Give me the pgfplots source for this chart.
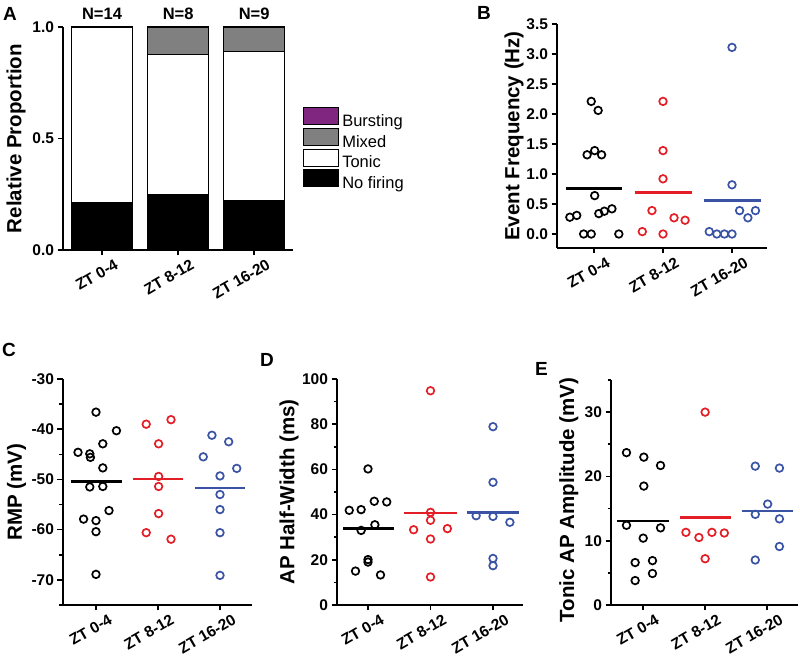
\documentclass[border=0pt]{standalone}
\usepackage{fontspec}
\setmainfont{Liberation Sans}
\usepackage{pgfplots}
\pgfplotsset{compat=1.18}
\definecolor{myred}{RGB}{228,30,38}
\definecolor{myblue}{RGB}{58,83,164}
\definecolor{mypurple}{RGB}{128,38,128}
\definecolor{mygray}{RGB}{128,128,128}
\pgfplotsset{
  base/.style={
    scale only axis, anchor=south west,
    axis lines=left, axis line style={-, line width=2pt},
    tick align=outside, major tick length=5.5pt, minor tick length=3.5pt,
    tick style={black, line width=1.6pt},
    tick label style={font=\fontsize{15.5}{17}\selectfont\bfseries},
    /pgf/number format/assume math mode=true,
    xtick={1,2,3}, xticklabels={ZT 0-4, ZT 8-12, ZT 16-20},
    x tick label style={rotate=30, anchor=north east, xshift=12pt, yshift=-5pt},
    ylabel style={font=\fontsize{20.5}{23}\selectfont\bfseries, anchor=center},
    clip=false,
  },
  dots/.style={only marks, mark=o, mark size=3.8pt, line width=1.7pt},
  mean/.style={no marks, line width=2.5pt},
  boxlegend/.style={legend image code/.code={\draw[##1] (0pt,-3.4pt) rectangle (35pt,13.4pt);}},
}
\begin{document}
\begin{tikzpicture}
\path[use as bounding box] (0pt,0pt) rectangle (800pt,668pt);
% ---------------- A
\begin{axis}[base, at={(63pt,418pt)}, width=230pt, height=223pt,
  xmin=0.487, xmax=3.51, ymin=0, ymax=1,
  ytick={0,0.5,1},
  yticklabel style={/pgf/number format/.cd, fixed, fixed zerofill, precision=1},
  ylabel={Relative Proportion},
  ylabel style={at={(axis description cs:-0.204,0.5)}},
  ybar stacked, bar width=0.8,
  reverse legend,
  legend style={at={(1.043,0.641)}, anchor=north west, draw=none, fill=none,
    inner sep=0pt, row sep=0pt, column sep=3pt, nodes={inner sep=0pt},
    font=\fontsize{16.5}{18}\selectfont},
  legend cell align=left,
]
\addplot[fill=black, draw=black, line width=1.2pt, boxlegend]
  coordinates {(1,0.214) (2,0.25) (3,0.222)};
\addlegendentry{No firing}
\addplot[fill=white, draw=black, line width=1.2pt, boxlegend]
  coordinates {(1,0.786) (2,0.625) (3,0.667)};
\addlegendentry{Tonic}
\addplot[fill=mygray, draw=black, line width=1.2pt, boxlegend]
  coordinates {(1,0) (2,0.125) (3,0.111)};
\addlegendentry{Mixed}
\addplot[fill=mypurple, draw=black, line width=1.2pt, boxlegend]
  coordinates {(1,0) (2,0) (3,0)};
\addlegendentry{Bursting}
\node[font=\fontsize{16.5}{18}\selectfont\bfseries, anchor=base, yshift=7pt] at (axis cs:1,1) {N=14};
\node[font=\fontsize{16.5}{18}\selectfont\bfseries, anchor=base, yshift=7pt] at (axis cs:2,1) {N=8};
\node[font=\fontsize{16.5}{18}\selectfont\bfseries, anchor=base, yshift=7pt] at (axis cs:3,1) {N=9};
\end{axis}
% ---------------- B
\begin{axis}[base, at={(557pt,420pt)}, width=210pt, height=224pt,
  xmin=0.464, xmax=3.507, ymin=-0.233, ymax=3.5,
  ytick={0,0.5,...,3.5},
  yticklabel style={/pgf/number format/.cd, fixed, fixed zerofill, precision=1},
  ylabel={Event Frequency (Hz)},
  ylabel style={at={(axis description cs:-0.205,0.5)}},
]
\addplot[dots, black] coordinates {(0.65,0.28) (0.75,0.31) (0.85,0) (0.96,0) (1.36,0) (0.90,1.32) (1.01,1.39) (1.11,1.32) (0.96,2.21) (1.06,2.06) (1.01,0.64) (1.07,0.34) (1.15,0.38) (1.26,0.42)};
\addplot[mean, black] coordinates {(0.59,0.76) (1.41,0.76)};
\addplot[dots, myred] coordinates {(2,2.21) (2,1.39) (2,0.92) (1.84,0.39) (1.70,0.04) (2,0) (2.16,0.27) (2.32,0.23)};
\addplot[mean, myred] coordinates {(1.59,0.69) (2.42,0.69)};
\addplot[dots, myblue] coordinates {(3,3.11) (3,0.82) (3.11,0.39) (3.23,0.27) (3.34,0.39) (2.67,0.04) (2.78,0) (2.89,0) (3,0)};
\addplot[mean, myblue] coordinates {(2.59,0.56) (3.42,0.56)};
\end{axis}
% ---------------- C
\begin{axis}[base, at={(63pt,63pt)}, width=189pt, height=226pt,
  xmin=0.468, xmax=3.516, ymin=-75, ymax=-30,
  ytick={-70,-60,-50,-40,-30}, minor ytick={-75,-65,-55,-45,-35},
  ylabel={RMP (mV)},
  ylabel style={at={(axis description cs:-0.246,0.5)}},
]
\addplot[dots, black] coordinates {(1.0,-36.6) (1.33,-40.3) (1.11,-42.9) (0.71,-44.6) (0.90,-44.9) (0.91,-45.6) (1.11,-47.7) (0.90,-51.5) (1.11,-51.4) (1.21,-56.2) (0.80,-57.9) (1.0,-58.2) (1.0,-60.4) (1.0,-68.9)};
\addplot[mean, black] coordinates {(0.59,-50.4) (1.42,-50.4)};
\addplot[dots, myred] coordinates {(1.81,-39.0) (2.21,-38.1) (2.01,-42.9) (2.01,-49.4) (2.01,-51.4) (2.01,-56.8) (1.81,-60.6) (2.21,-61.9)};
\addplot[mean, myred] coordinates {(1.59,-49.9) (2.41,-49.9)};
\addplot[dots, myblue] coordinates {(2.87,-41.2) (3.14,-42.5) (2.73,-45.5) (3.27,-47.8) (3,-49.3) (3,-53.0) (3,-56.0) (3,-60.6) (3,-69.1)};
\addplot[mean, myblue] coordinates {(2.59,-51.7) (3.41,-51.7)};
\end{axis}
% ---------------- D
\begin{axis}[base, at={(337pt,63pt)}, width=186pt, height=226pt,
  xmin=0.504, xmax=3.48, ymin=0, ymax=100,
  ytick={0,20,...,100}, minor ytick={10,30,50,70,90},
  ylabel={AP Half-Width (ms)},
  ylabel style={at={(axis description cs:-0.258,0.5)}},
]
\addplot[dots, black] coordinates {(1,60.2) (0.70,41.9) (0.89,42.2) (1.10,45.9) (1.30,45.6) (1.11,35.5) (0.89,33.0) (1,20.1) (1,19.0) (0.80,15.0) (1.20,13.3)};
\addplot[mean, black] coordinates {(0.60,33.8) (1.41,33.8)};
\addplot[dots, myred] coordinates {(2,94.8) (2,41.0) (2,37.5) (1.73,33.3) (2.27,33.8) (2,29.2) (2,12.4)};
\addplot[mean, myred] coordinates {(1.58,40.6) (2.42,40.6)};
\addplot[dots, myblue] coordinates {(3,78.9) (3,54.3) (2.73,39.5) (3,39.2) (3.27,36.6) (3,20.6) (3,17.4)};
\addplot[mean, myblue] coordinates {(2.58,41.0) (3.42,41.0)};
\end{axis}
% ---------------- E
\begin{axis}[base, at={(611pt,63pt)}, width=187pt, height=225pt,
  xmin=0.48, xmax=3.5, ymin=0, ymax=35,
  ytick={0,10,20,30}, minor ytick={5,15,25,35},
  ylabel={Tonic AP Amplitude (mV)},
  ylabel style={at={(axis description cs:-0.225,0.467)}},
]
\addplot[dots, black] coordinates {(0.73,23.7) (1.01,23.0) (1.28,21.7) (1.01,18.5) (0.73,12.4) (1.28,12.0) (1.0,10.4) (0.87,6.6) (1.15,6.9) (1.15,4.9) (0.87,3.8)};
\addplot[mean, black] coordinates {(0.58,13.1) (1.42,13.1)};
\addplot[dots, myred] coordinates {(2,30.0) (1.69,11.3) (1.90,10.5) (2.11,11.3) (2.31,11.2) (2,7.2)};
\addplot[mean, myred] coordinates {(1.59,13.6) (2.42,13.6)};
\addplot[dots, myblue] coordinates {(2.81,21.6) (3.20,21.3) (3.01,15.7) (2.81,14.1) (3.20,13.4) (3.20,9.1) (2.81,7.0)};
\addplot[mean, myblue] coordinates {(2.59,14.6) (3.42,14.6)};
\end{axis}
% panel letters
\node[font=\fontsize{19}{21}\selectfont\bfseries, anchor=north west, inner sep=0pt] at (3pt,661pt) {A};
\node[font=\fontsize{19}{21}\selectfont\bfseries, anchor=north west, inner sep=0pt] at (477pt,662pt) {B};
\node[font=\fontsize{19}{21}\selectfont\bfseries, anchor=north west, inner sep=0pt] at (2pt,325pt) {C};
\node[font=\fontsize{19}{21}\selectfont\bfseries, anchor=north west, inner sep=0pt] at (260pt,315pt) {D};
\node[font=\fontsize{19}{21}\selectfont\bfseries, anchor=north west, inner sep=0pt] at (535pt,306pt) {E};
\end{tikzpicture}
\end{document}
